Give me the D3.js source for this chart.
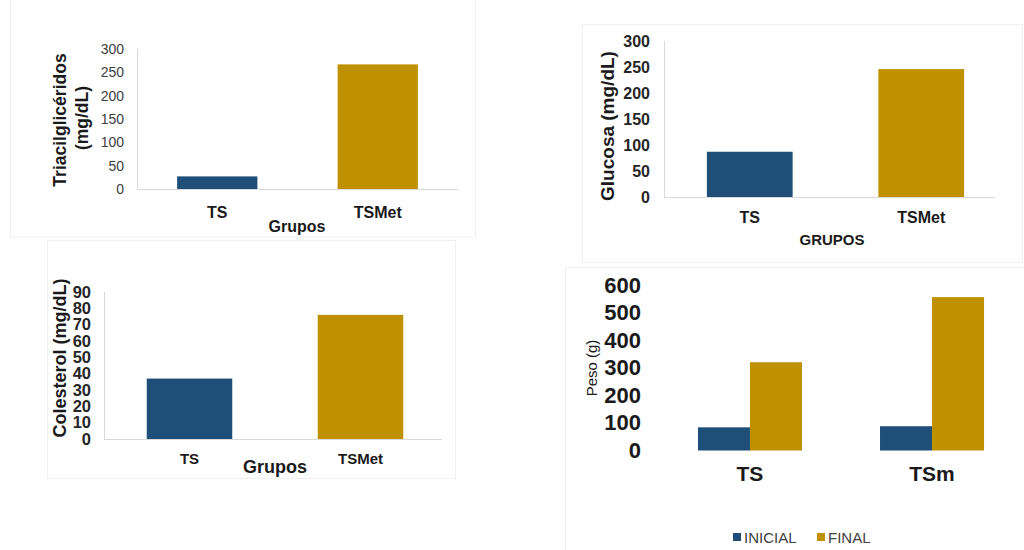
<!DOCTYPE html>
<html>
<head>
<meta charset="utf-8">
<script src="https://cdn.jsdelivr.net/npm/d3@7"></script>
<style>
  html, body { margin: 0; padding: 0; background: #fff; }
  svg { display: block; font-family: Arial, "Liberation Sans", sans-serif; }
</style>
</head>
<body>
<svg id="chart" width="1024" height="550"></svg>
<script>
// ---- data ----
const groupsA = ["TS", "TSMet"];
const trigliceridos = [27, 267];
const glucosa = [87, 246];
const colesterol = [37, 76];

const groupsPeso = ["TS", "TSm"];
const pesoSeries = ["INICIAL", "FINAL"];
const pesoInicial = [84, 88];
const pesoFinal = [320, 556];

const ticksTri = [0, 50, 100, 150, 200, 250, 300];
const ticksGlu = [0, 50, 100, 150, 200, 250, 300];
const ticksCol = [0, 10, 20, 30, 40, 50, 60, 70, 80, 90];
const ticksPeso = [0, 100, 200, 300, 400, 500, 600];

// ---- styles ----
const BLUE = "#1f4e79";
const GOLD = "#bf9000";
const AXIS = "#d9d9d9";
const FRAME = "#efefef";

const svg = d3.select("#chart");

// faint panel frames
const frames = [
  [10.5, -1, 465, 238],
  [582.5, 24.5, 440, 238],
  [47.5, 240.5, 408, 238],
  [565.5, 267.5, 470, 300]
];
svg.selectAll("rect.frame").data(frames).join("rect")
  .attr("class", "frame")
  .attr("x", d => d[0]).attr("y", d => d[1])
  .attr("width", d => d[2]).attr("height", d => d[3])
  .attr("fill", "none").attr("stroke", FRAME).attr("stroke-width", 1);

// generic single-series bar panel
function barPanel(cfg) {
  const g = svg.append("g");
  const x = d3.scaleBand().domain(cfg.cats).range(cfg.xr)
    .paddingInner(0.5).paddingOuter(0.25);
  const y = d3.scaleLinear().domain([0, cfg.max]).range(cfg.yr);

  // axis lines
  g.append("line").attr("x1", cfg.xr[0] + 0.5).attr("x2", cfg.xr[0] + 0.5)
    .attr("y1", y(cfg.max)).attr("y2", y(0)).attr("stroke", AXIS);
  g.append("line").attr("x1", cfg.xr[0]).attr("x2", cfg.baseEnd)
    .attr("y1", y(0) + 0.5).attr("y2", y(0) + 0.5).attr("stroke", AXIS);

  // y tick labels
  const ax = d3.axisLeft(y).tickValues(cfg.ticks).tickSize(0).tickPadding(0)
    .tickFormat(d3.format("d"));
  const ag = g.append("g").attr("transform", `translate(${cfg.tickRight},0)`).call(ax);
  ag.select(".domain").remove();
  ag.selectAll("text")
    .attr("font-family", "Arial, 'Liberation Sans', sans-serif")
    .attr("font-size", cfg.tickSize)
    .attr("font-weight", cfg.tickWeight)
    .attr("fill", cfg.tickColor);

  // bars
  g.selectAll("rect.bar").data(cfg.values).join("rect")
    .attr("class", "bar")
    .attr("x", (d, i) => x(cfg.cats[i]))
    .attr("width", x.bandwidth())
    .attr("y", d => y(d))
    .attr("height", d => y(0) - y(d))
    .attr("fill", (d, i) => i === 0 ? BLUE : GOLD);

  // category labels
  g.selectAll("text.cat").data(cfg.cats).join("text")
    .attr("class", "cat")
    .attr("x", d => x(d) + x.bandwidth() / 2)
    .attr("y", cfg.catY)
    .attr("text-anchor", "middle")
    .attr("font-size", cfg.catSize)
    .attr("font-weight", "bold")
    .attr("fill", "#1a1a1a")
    .text(d => d);

  // x title
  g.append("text")
    .attr("x", cfg.xTitle[0]).attr("y", cfg.xTitle[1])
    .attr("text-anchor", "middle")
    .attr("font-size", cfg.xTitleSize)
    .attr("font-weight", "bold")
    .attr("fill", "#1a1a1a")
    .text(cfg.xTitleText);

  // y title (one or more lines, rotated)
  cfg.yTitle.forEach(t => {
    g.append("text")
      .attr("transform", `translate(${t.x},${t.y}) rotate(-90)`)
      .attr("text-anchor", "middle")
      .attr("dominant-baseline", "central")
      .attr("font-size", cfg.yTitleSize)
      .attr("font-weight", "bold")
      .attr("fill", "#1a1a1a")
      .text(t.text);
  });
}

// Triacilglicéridos
barPanel({
  cats: groupsA, values: trigliceridos, max: 300, ticks: ticksTri,
  xr: [137, 458], baseEnd: 458, yr: [189, 49],
  tickRight: 124, tickSize: 14, tickWeight: "normal", tickColor: "#404040",
  catY: 218, catSize: 16,
  xTitle: [297, 232], xTitleSize: 16, xTitleText: "Grupos",
  yTitleSize: 17.5,
  yTitle: [{ x: 60, y: 120, text: "Triacilglicéridos" }, { x: 82, y: 118, text: "(mg/dL)" }]
});

// Glucosa
barPanel({
  cats: groupsA, values: glucosa, max: 300, ticks: ticksGlu,
  xr: [664, 1007], baseEnd: 995, yr: [197, 41],
  tickRight: 650, tickSize: 16, tickWeight: "bold", tickColor: "#262626",
  catY: 223, catSize: 16,
  xTitle: [832, 245], xTitleSize: 15, xTitleText: "GRUPOS",
  yTitleSize: 19,
  yTitle: [{ x: 607, y: 126, text: "Glucosa (mg/dL)" }]
});

// Colesterol
barPanel({
  cats: groupsA, values: colesterol, max: 90, ticks: ticksCol,
  xr: [104, 446], baseEnd: 442, yr: [439, 292],
  tickRight: 91, tickSize: 16.5, tickWeight: "bold", tickColor: "#262626",
  catY: 464, catSize: 15,
  xTitle: [275, 473], xTitleSize: 18, xTitleText: "Grupos",
  yTitleSize: 18,
  yTitle: [{ x: 60, y: 358, text: "Colesterol (mg/dL)" }]
});

// Peso: grouped bars
(function () {
  const g = svg.append("g");
  const x0 = d3.scaleBand().domain(groupsPeso).range([659, 1023])
    .paddingInner(0.4286).paddingOuter(0.214);
  const x1 = d3.scaleBand().domain(pesoSeries).range([0, x0.bandwidth()]);
  const y = d3.scaleLinear().domain([0, 600]).range([450.5, 285]);
  const color = d3.scaleOrdinal().domain(pesoSeries).range([BLUE, GOLD]);
  const rows = groupsPeso.map((grp, i) => ({
    grp, vals: [{ s: "INICIAL", v: pesoInicial[i] }, { s: "FINAL", v: pesoFinal[i] }]
  }));

  const ax = d3.axisLeft(y).tickValues(ticksPeso).tickSize(0).tickPadding(0);
  const ag = g.append("g").attr("transform", "translate(641,0)").call(ax);
  ag.select(".domain").remove();
  ag.selectAll("text")
    .attr("font-family", "Arial, 'Liberation Sans', sans-serif")
    .attr("font-size", 22).attr("font-weight", "bold").attr("fill", "#1a1a1a");

  g.selectAll("g.grp").data(rows).join("g")
    .attr("class", "grp")
    .attr("transform", d => `translate(${x0(d.grp)},0)`)
    .selectAll("rect").data(d => d.vals).join("rect")
    .attr("x", d => x1(d.s)).attr("width", x1.bandwidth())
    .attr("y", d => y(d.v)).attr("height", d => y(0) - y(d.v))
    .attr("fill", d => color(d.s));

  g.selectAll("text.cat").data(groupsPeso).join("text")
    .attr("class", "cat")
    .attr("x", d => x0(d) + x0.bandwidth() / 2)
    .attr("y", 481)
    .attr("text-anchor", "middle")
    .attr("font-size", 21).attr("font-weight", "bold").attr("fill", "#1a1a1a")
    .text(d => d);

  g.append("text")
    .attr("transform", "translate(591,368) rotate(-90)")
    .attr("text-anchor", "middle").attr("dominant-baseline", "central")
    .attr("font-size", 15).attr("fill", "#1a1a1a")
    .text("Peso (g)");

  // legend
  const lx = [733, 817];
  const lg = g.selectAll("g.leg").data(pesoSeries).join("g")
    .attr("class", "leg")
    .attr("transform", (d, i) => `translate(${lx[i]},537)`);
  lg.append("rect").attr("x", 0).attr("y", -4).attr("width", 8).attr("height", 8)
    .attr("fill", d => color(d));
  lg.append("text").attr("x", 11).attr("y", 5.5)
    .attr("font-size", 15).attr("fill", "#404040")
    .text(d => d);
})();
</script>
</body>
</html>
